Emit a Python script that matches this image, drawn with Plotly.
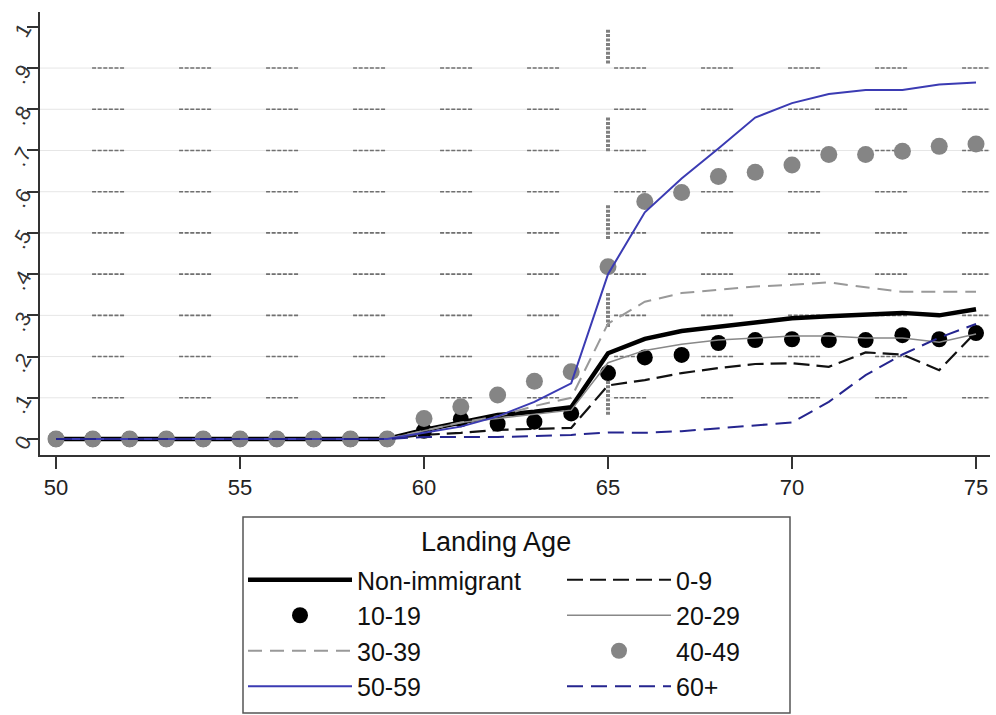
import plotly.graph_objects as go

# ---------------- data ----------------
ages = list(range(50, 76))
zeros10 = [0.0] * 10  # ages 50-59

non_immigrant = zeros10 + [0.022, 0.040, 0.058, 0.066, 0.077, 0.208, 0.243, 0.262, 0.272, 0.282,
                           0.293, 0.298, 0.303, 0.306, 0.300, 0.315]
age_0_9 = zeros10 + [0.010, 0.015, 0.022, 0.025, 0.027, 0.130, 0.143, 0.160, 0.172, 0.182,
                     0.184, 0.175, 0.210, 0.205, 0.167, 0.260]
age_10_19 = zeros10 + [0.020, 0.048, 0.037, 0.042, 0.062, 0.160, 0.198, 0.204, 0.233, 0.240,
                       0.242, 0.240, 0.240, 0.252, 0.242, 0.257]
age_20_29 = zeros10 + [0.020, 0.040, 0.050, 0.060, 0.070, 0.185, 0.215, 0.230, 0.240, 0.245,
                       0.250, 0.250, 0.245, 0.245, 0.235, 0.255]
age_30_39 = zeros10 + [0.020, 0.040, 0.055, 0.080, 0.100, 0.280, 0.333, 0.354, 0.362, 0.370,
                       0.374, 0.380, 0.368, 0.357, 0.357, 0.357]
age_40_49 = zeros10 + [0.050, 0.078, 0.107, 0.140, 0.163, 0.418, 0.576, 0.598, 0.637, 0.647,
                       0.665, 0.690, 0.690, 0.698, 0.710, 0.716]
age_50_59 = zeros10 + [0.015, 0.030, 0.055, 0.090, 0.135, 0.400, 0.550, 0.632, 0.705, 0.780,
                       0.815, 0.837, 0.847, 0.847, 0.860, 0.865]
age_60_plus = zeros10 + [0.005, 0.005, 0.005, 0.007, 0.010, 0.016, 0.015, 0.019, 0.026, 0.032,
                         0.040, 0.090, 0.155, 0.205, 0.246, 0.279]

x_ticks = [50, 55, 60, 65, 70, 75]
y_ticks = [0, 0.1, 0.2, 0.3, 0.4, 0.5, 0.6, 0.7, 0.8, 0.9, 1.0]
y_ticktext = ["0", ".1", ".2", ".3", ".4", ".5", ".6", ".7", ".8", ".9", "1"]
grid_vals = [0.1, 0.2, 0.3, 0.4, 0.5, 0.6, 0.7, 0.8, 0.9]
retirement_age = 65
legend_title = "Landing Age"

X_RANGE = [49.565, 75.38]
Y_RANGE = [-0.0388, 1.036]

# plot-area geometry (pixels) used to place legend pieces in paper coords
L, R, T, B = 40, 6, 12, 260
W, H = 996, 715
PW, PH = W - L - R, H - T - B


def px_x(px):
    return (px - L) / PW


def px_y(py):
    return (H - B - py) / PH


# ---------------- figure ----------------
fig = go.Figure()


def line_trace(name, y, color, width, dash="solid"):
    return go.Scatter(x=ages, y=y, name=name, mode="lines",
                      line=dict(color=color, width=width, dash=dash))


def dot_trace(name, y, color, size):
    return go.Scatter(x=ages, y=y, name=name, mode="markers",
                      marker=dict(color=color, size=size, line=dict(width=0)))


fig.add_trace(line_trace("Non-immigrant", non_immigrant, "#000000", 4.5))
fig.add_trace(line_trace("0-9", age_0_9, "#111111", 2.2, "16px,7px"))
fig.add_trace(dot_trace("10-19", age_10_19, "#000000", 16))
fig.add_trace(line_trace("20-29", age_20_29, "#888888", 1.5))
fig.add_trace(line_trace("30-39", age_30_39, "#999999", 2, "14px,8px"))
fig.add_trace(dot_trace("40-49", age_40_49, "#858585", 17))
fig.add_trace(line_trace("50-59", age_50_59, "#3b3bb3", 2))
fig.add_trace(line_trace("60+", age_60_plus, "#25258f", 2, "16px,8px"))

shapes = []
seg_dash = ",".join(["4px,1.6px"] * 5) + ",4px,55px"
for g in grid_vals:
    shapes.append(dict(type="line", xref="x", yref="y", x0=X_RANGE[0], x1=X_RANGE[1],
                       y0=g, y1=g, line=dict(color="#e6e6e6", width=1), layer="below"))
    shapes.append(dict(type="line", xref="x", yref="y", x0=50.98, x1=X_RANGE[1],
                       y0=g, y1=g, line=dict(color="#707070", width=1.6, dash=seg_dash),
                       layer="below"))
vdash = ",".join(["3px,1.4px"] * 7) + ",3px,54px"
shapes.append(dict(type="line", xref="x", yref="y", x0=retirement_age, x1=retirement_age,
                   y0=0.993, y1=0.02, line=dict(color="#808080", width=4, dash=vdash),
                   layer="below"))
# legend frame
shapes.append(dict(type="rect", xref="paper", yref="paper",
                   x0=px_x(243), x1=px_x(790), y0=px_y(517), y1=px_y(713),
                   line=dict(color="#555555", width=1.5), fillcolor="rgba(0,0,0,0)"))

fig.update_layout(
    width=W, height=H,
    margin=dict(l=L, r=R, t=T, b=B, autoexpand=False),
    paper_bgcolor="white", plot_bgcolor="white",
    font=dict(family="Liberation Sans, Arial, sans-serif", color="#222222"),
    shapes=shapes,
    annotations=[dict(text=legend_title, xref="paper", yref="paper",
                      x=px_x(496), y=px_y(542), xanchor="center", yanchor="middle",
                      showarrow=False, font=dict(size=27, color="#111111"))],
    xaxis=dict(range=X_RANGE, tickvals=x_ticks, ticks="outside", ticklen=12, tickwidth=1.5,
               tickcolor="#333333", showline=True, linecolor="#333333", linewidth=1.5,
               showgrid=False, zeroline=False, tickfont=dict(size=22, color="#222222")),
    yaxis=dict(range=Y_RANGE, tickvals=y_ticks, ticktext=y_ticktext, ticks="outside",
               ticklen=11, tickwidth=1.5, tickcolor="#333333", tickangle=-60,
               showline=True, linecolor="#333333", linewidth=1.5,
               showgrid=False, zeroline=False, tickfont=dict(size=21, color="#333333")),
    showlegend=True,
    legend=dict(
        orientation="h", x=px_x(243), y=px_y(557),
        xanchor="left", yanchor="top",
        borderwidth=0, bgcolor="rgba(0,0,0,0)",
        font=dict(size=25, color="#111111"),
        itemwidth=104, entrywidth=200, entrywidthmode="pixels",
        traceorder="normal",
    ),
)

fig.write_html("out.html")
